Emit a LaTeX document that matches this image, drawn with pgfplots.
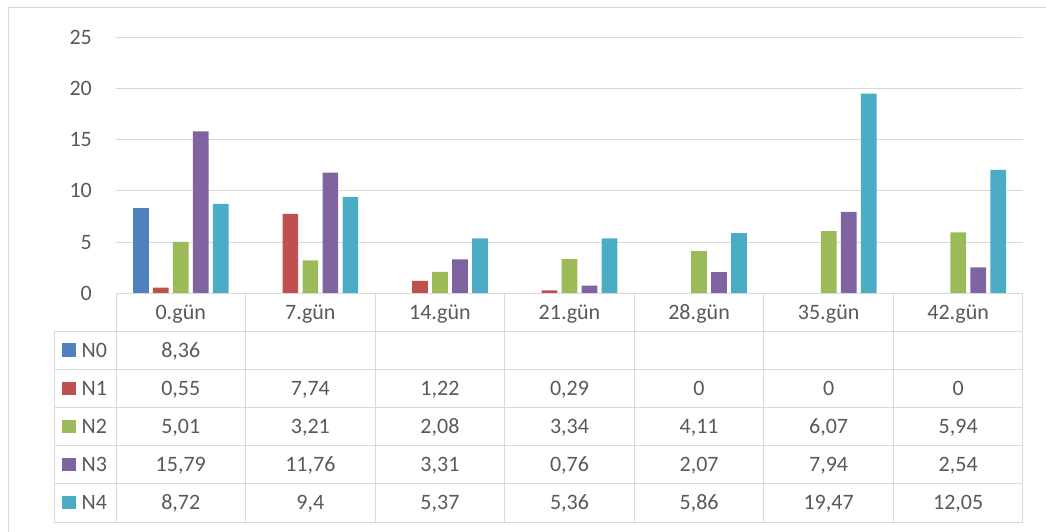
\documentclass[border=0pt]{standalone}
\usepackage{pgfplots}
\pgfplotsset{compat=1.18}
\usepackage{pgfplotstable}
\usepackage{fontspec}
\setmainfont{Carlito}

\definecolor{cN0}{HTML}{4F81BD}
\definecolor{cN1}{HTML}{C0504D}
\definecolor{cN2}{HTML}{9BBB59}
\definecolor{cN3}{HTML}{8064A2}
\definecolor{cN4}{HTML}{4BACC6}
\definecolor{txt}{HTML}{595959}
\definecolor{rule}{HTML}{D9D9D9}

% measurements per day
\pgfplotstableread{
idx N0   N1   N2   N3    N4
0   8.36 0.55 5.01 15.79 8.72
1   nan  7.74 3.21 11.76 9.4
2   nan  1.22 2.08 3.31  5.37
3   nan  0.29 3.34 0.76  5.36
4   nan  0    4.11 2.07  5.86
5   nan  0    6.07 7.94  19.47
6   nan  0    5.94 2.54  12.05
}\data

\newcommand{\bigfont}{\fontsize{22bp}{26bp}\selectfont}
\pgfkeys{/pgf/number format/.cd, use comma, precision=2, assume math mode=true}

\begin{document}
\begin{tikzpicture}[font=\bigfont]
\useasboundingbox (0,0) rectangle (1046bp,-532bp);
% chart frame
\draw[rule, line width=1bp] (8bp,-545bp) -- (8bp,-7bp) -- (1055bp,-7bp);

\begin{axis}[
  at={(116bp,-293.3bp)}, anchor=south west,
  scale only axis, width=907bp, height=256.3bp,
  xmin=-0.5, xmax=6.5, ymin=0, ymax=25,
  ytick={0,5,...,25}, xtick=\empty,
  ymajorgrids, grid style={rule, line width=1bp},
  axis line style={draw=none},
  major tick length=0pt,
  /pgf/number format/assume math mode=true,
  yticklabel style={font=\bigfont, text=txt, anchor=east, inner sep=0pt, xshift=-24bp},
  ybar, bar width=15.7bp,
  clip=false,
]
\addplot[fill=cN0, draw=none, bar shift=-40bp] table[x=idx, y=N0] {\data};
\addplot[fill=cN1, draw=none, bar shift=-20bp] table[x=idx, y=N1] {\data};
\addplot[fill=cN2, draw=none, bar shift=0bp]   table[x=idx, y=N2] {\data};
\addplot[fill=cN3, draw=none, bar shift=20bp]  table[x=idx, y=N3] {\data};
\addplot[fill=cN4, draw=none, bar shift=40bp]  table[x=idx, y=N4] {\data};
\end{axis}

% data table grid
\foreach \k in {0,...,7}
  \draw[rule, line width=1bp] ({(116+129.57*\k)*1bp},-293.3bp) -- ({(116+129.57*\k)*1bp},-522bp);
\draw[rule, line width=1bp] (54bp,-331bp) -- (54bp,-522bp);
\draw[rule, line width=1bp] (116bp,-293.3bp) -- (1023bp,-293.3bp);
\foreach \r in {0,...,5}
  \draw[rule, line width=1bp] (54bp,{-(331+38.2*\r)*1bp}) -- (1023bp,{-(331+38.2*\r)*1bp});

% column headers
\foreach \lab [count=\i from 0] in {0.gün,7.gün,14.gün,21.gün,28.gün,35.gün,42.gün}
  \node[anchor=base, text=txt, inner sep=0pt] at ({(116+129.57*(\i+0.5))*1bp},-319.3bp) {\lab};

% legend keys
\foreach \s in {0,...,4}{
  \fill[cN\s] (62bp,{-(343.3+38.2*\s)*1bp}) rectangle (76bp,{-(356.5+38.2*\s)*1bp});
  \node[anchor=base west, text=txt, inner sep=0pt] at (81.5bp,{-(357+38.2*\s)*1bp}) {N\s};
}

% values
\pgfplotstablegetelem{0}{N0}\of\data
\node[anchor=base, text=txt, inner sep=0pt] at ({(116+129.57*0.5)*1bp},-357bp)
  {\pgfmathprintnumber{\pgfplotsretval}};
\foreach \s in {1,...,4}{
  \foreach \c in {0,...,6}{
    \pgfplotstablegetelem{\c}{N\s}\of\data
    \node[anchor=base, text=txt, inner sep=0pt] at ({(116+129.57*(\c+0.5))*1bp},{-(357+38.2*\s)*1bp})
      {\pgfmathprintnumber{\pgfplotsretval}};
  }
}
\end{tikzpicture}
\end{document}
